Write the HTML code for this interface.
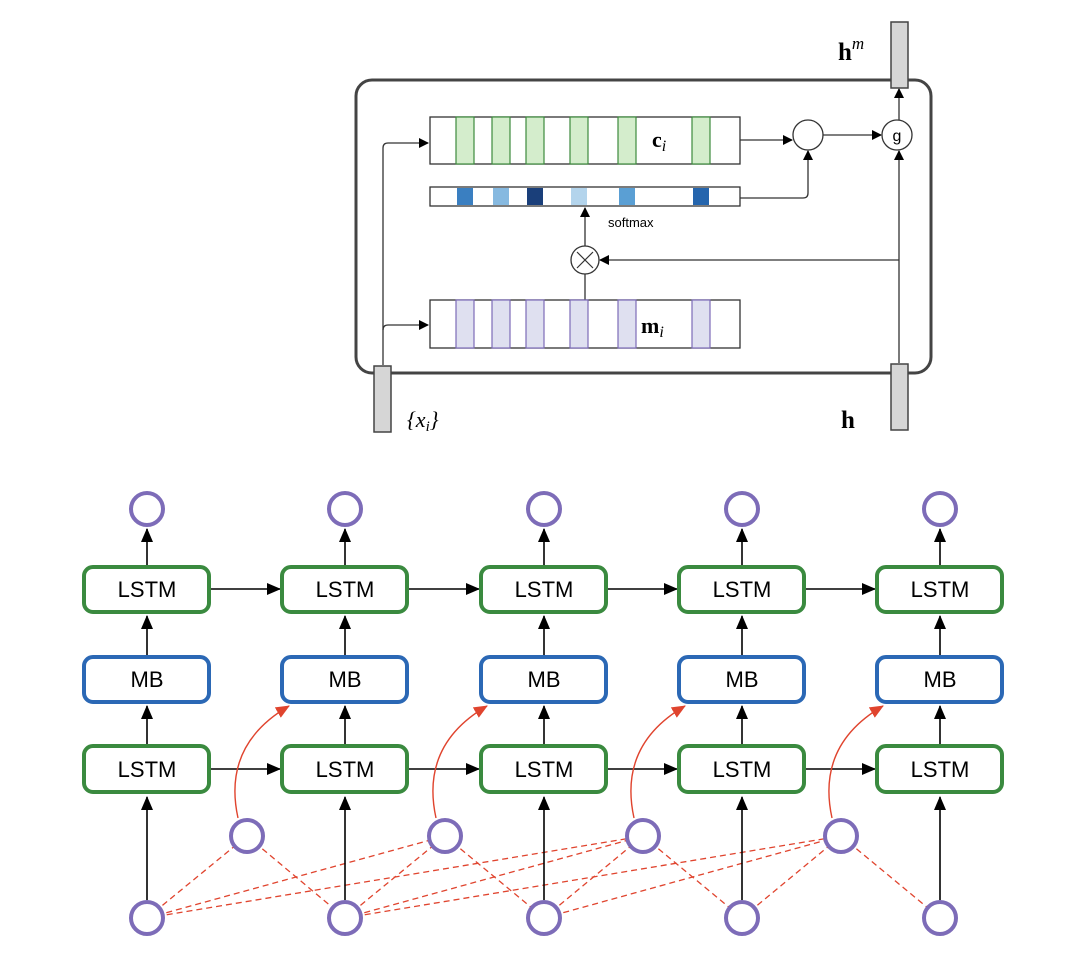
<!DOCTYPE html>
<html><head><meta charset="utf-8"><style>html,body{margin:0;padding:0;background:#fff}svg{display:block}</style></head>
<body>
<svg width="1089" height="953" viewBox="0 0 1089 953" xmlns="http://www.w3.org/2000/svg">
<defs>
<marker id="ab" markerWidth="10" markerHeight="10" refX="9" refY="5" orient="auto" markerUnits="userSpaceOnUse"><path d="M0,0 L10,5 L0,10 z" fill="#000"/></marker>
<marker id="ab2" markerWidth="14" markerHeight="12" refX="13" refY="6" orient="auto" markerUnits="userSpaceOnUse"><path d="M0,0 L14,6 L0,12 z" fill="#000"/></marker>
<marker id="ar" markerWidth="14" markerHeight="12" refX="13" refY="6" orient="auto" markerUnits="userSpaceOnUse"><path d="M0,0 L14,6 L0,12 z" fill="#e0442e"/></marker>
</defs>
<!-- top diagram -->
<rect x="356" y="80" width="575" height="293" rx="16" fill="none" stroke="#444" stroke-width="3"/>
<g stroke="#333" stroke-width="1.3" fill="none">
<path d="M383,365 V148 Q383,143 388,143 H428" marker-end="url(#ab)"/>
<path d="M383,330 Q383,325 388,325 H428" marker-end="url(#ab)"/>
<path d="M740,140 H792" marker-end="url(#ab)"/>
<path d="M740,198 H803 Q808,198 808,193 V151" marker-end="url(#ab)"/>
<path d="M823,135 H881" marker-end="url(#ab)"/>
<path d="M899,120 V89" marker-end="url(#ab)"/>
<path d="M899,363 V151" marker-end="url(#ab)"/>
<path d="M899,260 H600" marker-end="url(#ab)"/>
<path d="M585,246 V208" marker-end="url(#ab)"/>
<path d="M585,274 V300"/>
</g>
<rect x="430" y="117" width="310" height="47" fill="#fff" stroke="#333" stroke-width="1.3"/>
<g fill="#d4edcc" stroke="#3d8a3d" stroke-width="1.2">
<rect x="456" y="117" width="18" height="47"/><rect x="492" y="117" width="18" height="47"/><rect x="526" y="117" width="18" height="47"/><rect x="570" y="117" width="18" height="47"/><rect x="618" y="117" width="18" height="47"/><rect x="692" y="117" width="18" height="47"/>
</g>
<rect x="430" y="300" width="310" height="48" fill="#fff" stroke="#333" stroke-width="1.3"/>
<g fill="#dfe0f0" stroke="#7d6cb8" stroke-width="1.2">
<rect x="456" y="300" width="18" height="48"/><rect x="492" y="300" width="18" height="48"/><rect x="526" y="300" width="18" height="48"/><rect x="570" y="300" width="18" height="48"/><rect x="618" y="300" width="18" height="48"/><rect x="692" y="300" width="18" height="48"/>
</g>
<rect x="430" y="187" width="310" height="19" fill="#fff" stroke="#333" stroke-width="1.3"/>
<rect x="457" y="188" width="16" height="17" fill="#3a7fc1"/>
<rect x="493" y="188" width="16" height="17" fill="#86b9e0"/>
<rect x="527" y="188" width="16" height="17" fill="#1a3f7a"/>
<rect x="571" y="188" width="16" height="17" fill="#b3d4ec"/>
<rect x="619" y="188" width="16" height="17" fill="#5a9fd4"/>
<rect x="693" y="188" width="16" height="17" fill="#2565ad"/>
<circle cx="808" cy="135" r="15" fill="#fff" stroke="#333" stroke-width="1.3"/>
<circle cx="897" cy="135" r="15" fill="#fff" stroke="#333" stroke-width="1.3"/>
<text x="897" y="141" font-family="Liberation Sans, sans-serif" font-size="16" text-anchor="middle">g</text>
<circle cx="585" cy="260" r="14" fill="#fff" stroke="#333" stroke-width="1.3"/>
<path d="M577,252 L593,268 M593,252 L577,268" stroke="#333" stroke-width="1.2"/>
<g fill="#d6d6d6" stroke="#444" stroke-width="1.5">
<rect x="374" y="366" width="17" height="66"/>
<rect x="891" y="364" width="17" height="66"/>
<rect x="891" y="22" width="17" height="66"/>
</g>
<text x="608" y="227" font-family="Liberation Sans, sans-serif" font-size="13">softmax</text>
<text x="652" y="147" font-family="Liberation Serif, serif" font-size="22" font-weight="bold">c<tspan font-style="italic" font-weight="normal" font-size="16" dy="4">i</tspan></text>
<text x="641" y="333" font-family="Liberation Serif, serif" font-size="22" font-weight="bold">m<tspan font-style="italic" font-weight="normal" font-size="16" dy="4">i</tspan></text>
<text x="407" y="427" font-family="Liberation Serif, serif" font-size="22" font-style="italic">{x<tspan font-size="15" dy="4">i</tspan><tspan dy="-4">}</tspan></text>
<text x="841" y="428" font-family="Liberation Serif, serif" font-size="25" font-weight="bold">h</text>
<text x="838" y="60" font-family="Liberation Serif, serif" font-size="25" font-weight="bold">h<tspan font-style="italic" font-weight="normal" font-size="17" dy="-11">m</tspan></text>

<!-- bottom diagram -->
<g stroke="#e0442e" stroke-width="1.3" stroke-dasharray="6,4" fill="none">
<line x1="147" y1="918" x2="247" y2="836"/><line x1="247" y1="836" x2="345" y2="918"/>
<line x1="345" y1="918" x2="445" y2="836"/><line x1="445" y1="836" x2="544" y2="918"/><line x1="147" y1="918" x2="445" y2="836"/>
<line x1="544" y1="918" x2="643" y2="836"/><line x1="643" y1="836" x2="742" y2="918"/><line x1="345" y1="918" x2="643" y2="836"/><line x1="147" y1="918" x2="643" y2="836"/>
<line x1="742" y1="918" x2="841" y2="836"/><line x1="841" y1="836" x2="940" y2="918"/><line x1="544" y1="918" x2="841" y2="836"/><line x1="345" y1="918" x2="841" y2="836"/>
</g>
<g id="cols">
</g>
<g stroke="#000" stroke-width="1.6" fill="none">
<path d="M147,900 V797" marker-end="url(#ab2)"/><path d="M345,900 V797" marker-end="url(#ab2)"/><path d="M544,900 V797" marker-end="url(#ab2)"/><path d="M742,900 V797" marker-end="url(#ab2)"/><path d="M940,900 V797" marker-end="url(#ab2)"/>
<path d="M147,745 V706" marker-end="url(#ab2)"/><path d="M345,745 V706" marker-end="url(#ab2)"/><path d="M544,745 V706" marker-end="url(#ab2)"/><path d="M742,745 V706" marker-end="url(#ab2)"/><path d="M940,745 V706" marker-end="url(#ab2)"/>
<path d="M147,657 V616" marker-end="url(#ab2)"/><path d="M345,657 V616" marker-end="url(#ab2)"/><path d="M544,657 V616" marker-end="url(#ab2)"/><path d="M742,657 V616" marker-end="url(#ab2)"/><path d="M940,657 V616" marker-end="url(#ab2)"/>
<path d="M147,567 V529" marker-end="url(#ab2)"/><path d="M345,567 V529" marker-end="url(#ab2)"/><path d="M544,567 V529" marker-end="url(#ab2)"/><path d="M742,567 V529" marker-end="url(#ab2)"/><path d="M940,567 V529" marker-end="url(#ab2)"/>
<path d="M210,769 H280" marker-end="url(#ab2)"/><path d="M408,769 H479" marker-end="url(#ab2)"/><path d="M607,769 H677" marker-end="url(#ab2)"/><path d="M805,769 H875" marker-end="url(#ab2)"/>
<path d="M210,589 H280" marker-end="url(#ab2)"/><path d="M408,589 H479" marker-end="url(#ab2)"/><path d="M607,589 H677" marker-end="url(#ab2)"/><path d="M805,589 H875" marker-end="url(#ab2)"/>
</g>
<g stroke="#e0442e" stroke-width="1.4" fill="none">
<path d="M238,818 Q222,745 289,706" marker-end="url(#ar)"/>
<path d="M436,818 Q420,745 487,706" marker-end="url(#ar)"/>
<path d="M634,818 Q618,745 685,706" marker-end="url(#ar)"/>
<path d="M832,818 Q816,745 883,706" marker-end="url(#ar)"/>
</g>
<g fill="#fff" stroke-width="4">
<g stroke="#3a8a3f">
<rect x="84" y="567" width="125" height="45" rx="9"/><rect x="282" y="567" width="125" height="45" rx="9"/><rect x="481" y="567" width="125" height="45" rx="9"/><rect x="679" y="567" width="125" height="45" rx="9"/><rect x="877" y="567" width="125" height="45" rx="9"/>
<rect x="84" y="746" width="125" height="46" rx="9"/><rect x="282" y="746" width="125" height="46" rx="9"/><rect x="481" y="746" width="125" height="46" rx="9"/><rect x="679" y="746" width="125" height="46" rx="9"/><rect x="877" y="746" width="125" height="46" rx="9"/>
</g>
<g stroke="#2b68b5">
<rect x="84" y="657" width="125" height="45" rx="9"/><rect x="282" y="657" width="125" height="45" rx="9"/><rect x="481" y="657" width="125" height="45" rx="9"/><rect x="679" y="657" width="125" height="45" rx="9"/><rect x="877" y="657" width="125" height="45" rx="9"/>
</g>
<g stroke="#7d6cb8">
<circle cx="147" cy="509" r="16"/><circle cx="345" cy="509" r="16"/><circle cx="544" cy="509" r="16"/><circle cx="742" cy="509" r="16"/><circle cx="940" cy="509" r="16"/>
<circle cx="247" cy="836" r="16"/><circle cx="445" cy="836" r="16"/><circle cx="643" cy="836" r="16"/><circle cx="841" cy="836" r="16"/>
<circle cx="147" cy="918" r="16"/><circle cx="345" cy="918" r="16"/><circle cx="544" cy="918" r="16"/><circle cx="742" cy="918" r="16"/><circle cx="940" cy="918" r="16"/>
</g>
</g>
<g font-family="Liberation Sans, sans-serif" font-size="22" text-anchor="middle" fill="#000">
<text x="147" y="597">LSTM</text><text x="345" y="597">LSTM</text><text x="544" y="597">LSTM</text><text x="742" y="597">LSTM</text><text x="940" y="597">LSTM</text>
<text x="147" y="687">MB</text><text x="345" y="687">MB</text><text x="544" y="687">MB</text><text x="742" y="687">MB</text><text x="940" y="687">MB</text>
<text x="147" y="777">LSTM</text><text x="345" y="777">LSTM</text><text x="544" y="777">LSTM</text><text x="742" y="777">LSTM</text><text x="940" y="777">LSTM</text>
</g>
</svg>
</body></html>
